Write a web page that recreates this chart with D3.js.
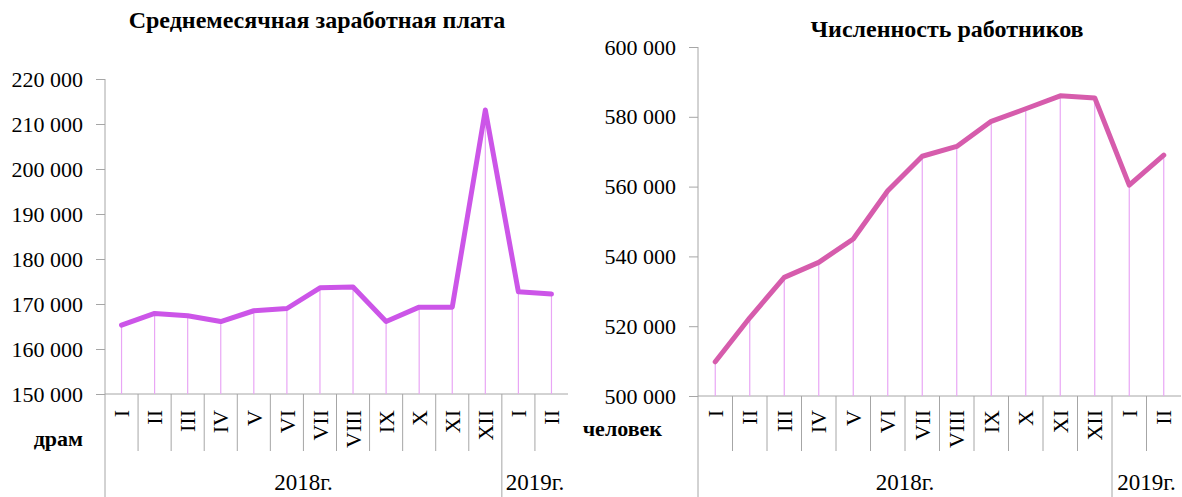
<html>
<script src="https://d3js.org/d3.v7.min.js"></script>
<style>
body{margin:0;background:#fff;}
</style>
<body>
<svg id="chart" width="1182" height="497"></svg>
<script>
const months = ['I','II','III','IV','V','VI','VII','VIII','IX','X','XI','XII','I','II'];
const years = ['2018г.','2019г.'];
const yearSpans = [12, 2];

const wage = [165300, 167900, 167400, 166100, 168500, 169000, 173600, 173800, 166100, 169300, 169300, 213100, 172700, 172200];
const wageTicks = [150000, 160000, 170000, 180000, 190000, 200000, 210000, 220000];

const workers = [509800, 522400, 534000, 538300, 545000, 558800, 568700, 571500, 578700, 582300, 586000, 585400, 560400, 569000];
const workerTicks = [500000, 520000, 540000, 560000, 580000, 600000];

const FONT = "'Liberation Serif', 'Times New Roman', serif";
const svg = d3.select('#chart');
const fmt = v => d3.format(',')(v).replace(/,/g, ' ');

function panel(cfg){
  const g = svg.append('g');
  const x = d3.scaleBand().domain(d3.range(months.length)).range([cfg.x0, cfg.x1]).padding(0);
  const y = d3.scaleLinear().domain(d3.extent(cfg.ticks)).range([cfg.yBase, cfg.yTop]);

  // title, sized to the width it takes in the original
  const t = g.append('text')
    .attr('x', cfg.titleX).attr('y', cfg.titleY)
    .attr('text-anchor', 'middle')
    .style('font-family', FONT).style('font-weight', 'bold').style('font-size', '21px')
    .text(cfg.title);
  const w = t.node().getComputedTextLength();
  t.style('font-size', Math.min(24, 21 * cfg.titleW / w) + 'px');

  // y axis
  const yAxis = d3.axisLeft(y).tickValues(cfg.ticks).tickSize(9).tickPadding(13).tickFormat(fmt);
  const ya = g.append('g').attr('transform', `translate(${cfg.x0},0)`).call(yAxis);
  ya.select('.domain').remove();
  ya.selectAll('line').attr('stroke', '#a6a6a6');
  ya.selectAll('text').style('font-size', '22px').style('font-family', FONT).attr('fill', '#000');
  g.append('line').attr('x1', cfg.x0).attr('x2', cfg.x0).attr('y1', cfg.yTop).attr('y2', 497)
    .attr('stroke', '#a6a6a6');
  g.append('line').attr('x1', cfg.x0).attr('x2', cfg.x1).attr('y1', cfg.yBase).attr('y2', cfg.yBase)
    .attr('stroke', '#a6a6a6');

  // drop lines
  g.selectAll('.drop').data(cfg.values).enter().append('line')
    .attr('x1', (d,i) => x(i) + x.bandwidth()/2)
    .attr('x2', (d,i) => x(i) + x.bandwidth()/2)
    .attr('y1', d => y(d)).attr('y2', cfg.yBase)
    .attr('stroke', '#e9a6f5').attr('stroke-width', 1.2);

  // line
  const line = d3.line().x((d,i) => x(i) + x.bandwidth()/2).y(d => y(d));
  g.append('path').datum(cfg.values).attr('d', line)
    .attr('fill', 'none').attr('stroke', cfg.color).attr('stroke-width', 5)
    .attr('stroke-linejoin', 'round').attr('stroke-linecap', 'round');

  // category dividers
  let cum = 0;
  const bounds = yearSpans.map(s => { cum += s; return cum; });
  for (let i = 1; i < months.length; i++) {
    const long = bounds.includes(i);
    g.append('line').attr('x1', x(i)).attr('x2', x(i))
      .attr('y1', cfg.yBase).attr('y2', long ? 497 : 451)
      .attr('stroke', '#a6a6a6');
  }

  // month labels
  g.selectAll('.m').data(months).enter().append('text')
    .attr('transform', (d,i) => `translate(${x(i) + x.bandwidth()/2},410) rotate(-90)`)
    .attr('text-anchor', 'end').attr('dy', '0.35em')
    .style('font-family', FONT).style('font-size', '22px')
    .text(d => d);

  // year labels
  let start = 0;
  yearSpans.forEach((s, k) => {
    const a = x(start), b = start + s < months.length ? x(start + s) : cfg.x1;
    g.append('text').attr('x', (a + b)/2).attr('y', 490)
      .attr('text-anchor', 'middle')
      .style('font-family', FONT).style('font-size', '23px').text(years[k]);
    start += s;
  });

  // unit label
  g.append('text').attr('x', cfg.unitX).attr('y', cfg.unitY)
    .attr('text-anchor', 'end')
    .style('font-family', FONT).style('font-weight', 'bold').style('font-size', '22px')
    .text(cfg.unit);
}

panel({title: 'Среднемесячная заработная плата', titleX: 317, titleY: 28, titleW: 385,
  values: wage, ticks: wageTicks, x0: 105, x1: 568, yTop: 79, yBase: 394,
  color: '#cc55e8', unit: 'драм', unitX: 83, unitY: 446});

panel({title: 'Численность работников', titleX: 947, titleY: 37, titleW: 285,
  values: workers, ticks: workerTicks, x0: 698, x1: 1181, yTop: 47, yBase: 396,
  color: '#d65cac', unit: 'человек', unitX: 662, unitY: 436});
</script>
</body>
</html>
